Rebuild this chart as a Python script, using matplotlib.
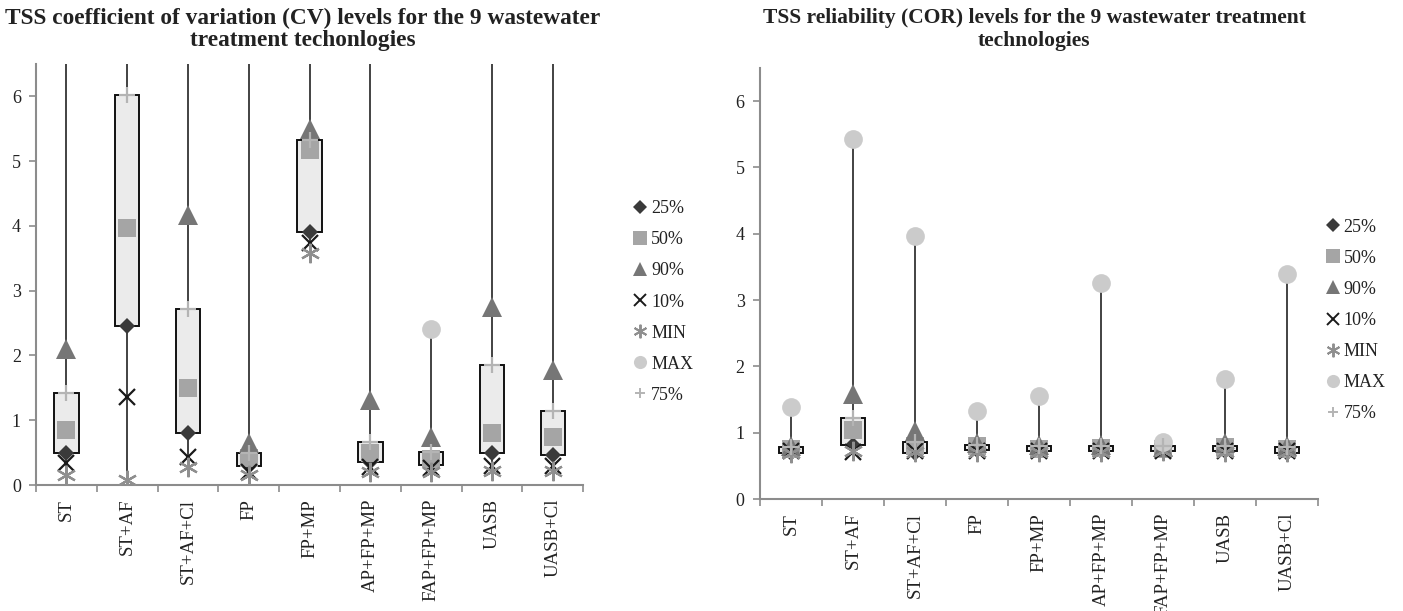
import matplotlib
matplotlib.use('Agg')
import matplotlib.pyplot as plt
from matplotlib.lines import Line2D
from matplotlib.patches import Rectangle

plt.rcParams['font.family'] = ['Liberation Serif', 'DejaVu Serif']

# categories (technologies)
categories = ['ST', 'ST+AF', 'ST+AF+Cl', 'FP', 'FP+MP', 'AP+FP+MP',
              'FAP+FP+MP', 'UASB', 'UASB+Cl']

# coefficient of variation (CV)
cv_p25 = [0.50, 2.45, 0.80, 0.29, 3.91, 0.36, 0.31, 0.49, 0.46]
cv_p50 = [0.85, 3.97, 1.50, 0.42, 5.17, 0.50, 0.40, 0.80, 0.74]
cv_p75 = [1.42, 6.02, 2.72, 0.50, 5.33, 0.67, 0.51, 1.86, 1.15]
cv_p90 = [2.10, 7.20, 4.17, 0.65, 5.50, 1.31, 0.74, 2.75, 1.77]
cv_p10 = [0.34, 1.36, 0.44, 0.20, 3.73, 0.28, 0.27, 0.30, 0.30]
cv_min = [0.15, 0.08, 0.28, 0.15, 3.58, 0.20, 0.20, 0.22, 0.22]
cv_max = [9.0, 10.5, 8.5, 8.0, 9.5, 8.0, 2.41, 9.0, 8.5]  # most are off the axis

# reliability (COR)
cor_p25 = [0.70, 0.81, 0.70, 0.74, 0.72, 0.73, 0.72, 0.72, 0.70]
cor_p50 = [0.75, 1.04, 0.80, 0.80, 0.76, 0.77, 0.76, 0.78, 0.75]
cor_p75 = [0.78, 1.22, 0.86, 0.82, 0.80, 0.80, 0.80, 0.80, 0.78]
cor_p90 = [0.80, 1.58, 1.02, 0.84, 0.82, 0.82, 0.78, 0.84, 0.80]
cor_p10 = [0.72, 0.71, 0.72, 0.72, 0.72, 0.72, 0.72, 0.72, 0.72]
cor_min = [0.70, 0.72, 0.71, 0.71, 0.71, 0.71, 0.72, 0.71, 0.71]
cor_max = [1.38, 5.43, 3.97, 1.33, 1.55, 3.26, 0.86, 1.81, 3.40]

yticks = [0, 1, 2, 3, 4, 5, 6]

# marker styles: label, marker, color, size
styles = [
    ('25%', 'D', '#3a3a3a', 8.3),
    ('50%', 's', '#a5a5a5', 13.5),
    ('90%', '^', '#767676', 14),
    ('10%', 'x', '#1a1a1a', 12),
    ('MIN', (6, 2, 0), '#8f8f8f', 14),
    ('MAX', 'o', '#cbcbcb', 13.5),
    ('75%', '+', '#b4b4b4', 11),
]

SPINE = '#8c8c8c'


def is_line_marker(mk):
    return mk in ('x', '+') or isinstance(mk, tuple)


def draw(ax, p25, p50, p75, p90, p10, pmin, pmax):
    x = list(range(len(categories)))
    # high-low lines
    ax.vlines(x, pmin, pmax, color='#222222', lw=1.2, zorder=1)
    # up-down boxes
    for xi, lo, hi in zip(x, p25, p75):
        ax.add_patch(Rectangle((xi - 0.2, lo), 0.4, hi - lo, facecolor='#ebebeb',
                               edgecolor='#111111', lw=1.4, zorder=2))
    series = [p25, p50, p90, p10, pmin, pmax, p75]
    for k, ((lab, mk, col, ms), vals) in enumerate(zip(styles, series)):
        mew = 1.6 if is_line_marker(mk) else 0
        ax.plot(x, vals, ls='none', marker=mk, ms=ms, color=col, mew=mew,
                mec=col, zorder=3 + k)
    ax.set_xlim(-0.5, len(categories) - 0.5)
    ax.set_ylim(0, 6.5)
    ax.set_yticks(yticks)
    ax.set_yticklabels([str(v) for v in yticks], fontsize=13, color='#222222')
    ax.set_xticks(x)
    ax.set_xticklabels(categories, rotation=90, fontsize=13.5, color='#222222')
    ax.set_xticks([i - 0.5 for i in range(len(categories) + 1)], minor=True)
    ax.tick_params(axis='x', which='major', length=0, pad=10)
    ax.tick_params(axis='x', which='minor', length=5, color=SPINE, width=1.2)
    ax.tick_params(axis='y', length=5, color=SPINE, width=1.2, pad=6)
    for s in ['top', 'right']:
        ax.spines[s].set_visible(False)
    for s in ['left', 'bottom']:
        ax.spines[s].set_color(SPINE)
        ax.spines[s].set_linewidth(1.5)


def legend(fig, x, y):
    handles = []
    for lab, mk, col, ms in styles:
        mew = 1.4 if is_line_marker(mk) else 0
        size = ms * 0.7 if mk != 'D' else ms * 0.8
        handles.append(Line2D([], [], ls='none', marker=mk, color=col, mec=col,
                              ms=size, mew=mew, label=lab))
    fig.legend(handles=handles, loc='upper left', bbox_to_anchor=(x, y),
               frameon=False, fontsize=13, handlelength=0.6, handletextpad=0.3,
               labelspacing=0.78, borderaxespad=0, labelcolor='#222222')


fig = plt.figure(figsize=(14.03, 6.11), dpi=100)

ax1 = fig.add_axes([0.0257, 0.2062, 0.390, 0.689])
draw(ax1, cv_p25, cv_p50, cv_p75, cv_p90, cv_p10, cv_min, cv_max)
fig.text(0.216, 0.9517, 'TSS coefficient of variation (CV) levels for the 9 wastewater\n'
         'treatment techonlogies', fontsize=16.8, fontweight='bold',
         color='#222222', ha='center', va='center', linespacing=1.05)

ax2 = fig.add_axes([0.5417, 0.1833, 0.3977, 0.7054])
draw(ax2, cor_p25, cor_p50, cor_p75, cor_p90, cor_p10, cor_min, cor_max)
fig.text(0.737, 0.9517, 'TSS reliability (COR) levels for the 9 wastewater treatment\n'
         'technologies', fontsize=15.5, fontweight='bold', color='#222222',
         ha='center', va='center', linespacing=1.15)

legend(fig, 0.4475, 0.684)
legend(fig, 0.941, 0.654)

fig.savefig('out.png', dpi=100)
